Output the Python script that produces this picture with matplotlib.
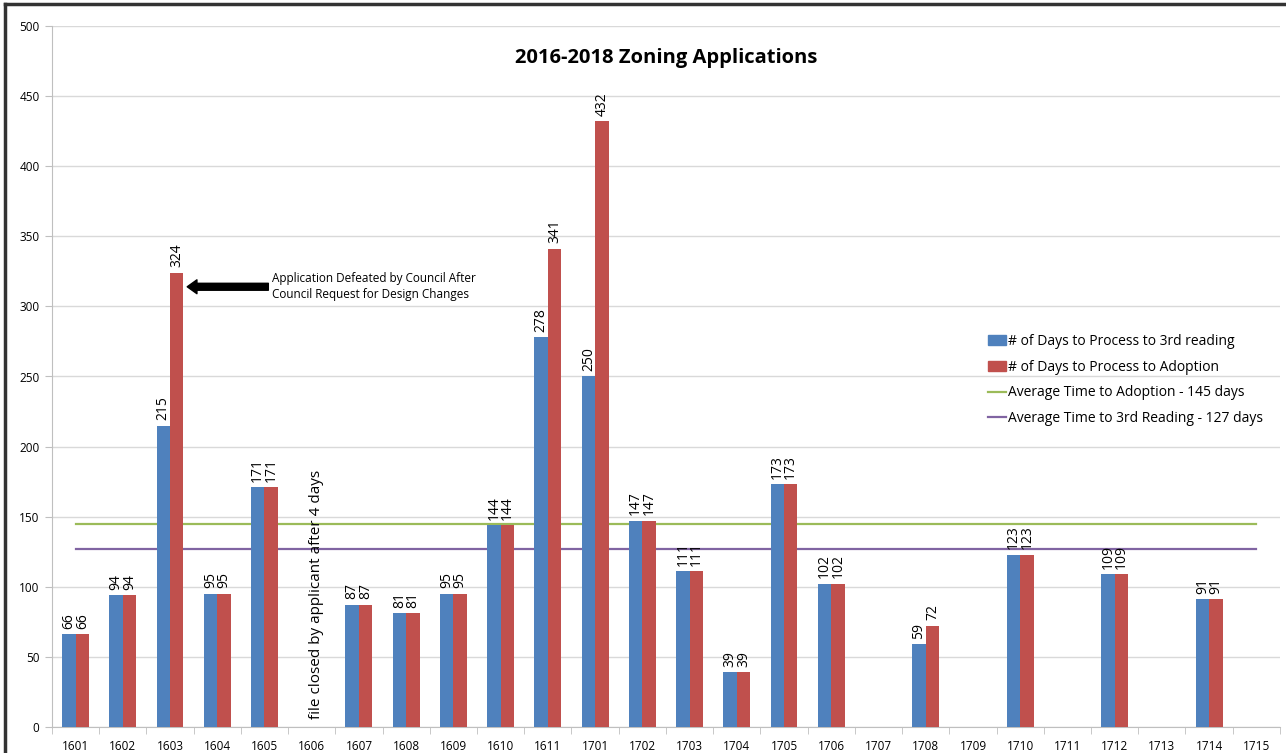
import matplotlib.pyplot as plt
import numpy as np
from matplotlib.lines import Line2D
from matplotlib.patches import Patch

# zoning application ids
apps = ['1601', '1602', '1603', '1604', '1605', '1606', '1607', '1608', '1609', '1610', '1611',
        '1701', '1702', '1703', '1704', '1705', '1706', '1707', '1708', '1709', '1710', '1711',
        '1712', '1713', '1714', '1715']
# days to 3rd reading / adoption (None = no bar)
third = [66, 94, 215, 95, 171, None, 87, 81, 95, 144, 278,
         250, 147, 111, 39, 173, 102, None, 59, None, 123, None, 109, None, 91, None]
adopt = [66, 94, 324, 95, 171, None, 87, 81, 95, 144, 341,
         432, 147, 111, 39, 173, 102, None, 72, None, 123, None, 109, None, 91, None]
avg_adopt = 145
avg_third = 127

blue = '#4F81BD'
red = '#C0504D'
green = '#9BBB59'
purple = '#8064A2'

plt.rcParams['font.family'] = ['Open Sans', 'DejaVu Sans']

fig = plt.figure(figsize=(12.86, 7.53), dpi=100)
ax = fig.add_axes([0.0404, 0.0345, 0.9549, 0.931])

x = np.arange(len(apps))
w = 0.285
for i in range(len(apps)):
    if third[i] is None:
        continue
    ax.bar(x[i] - w / 2, third[i], w, color=blue, zorder=3)
    ax.bar(x[i] + w / 2, adopt[i], w, color=red, zorder=3)
    ax.text(x[i] - w / 2, third[i] + 4, str(third[i]), rotation=90, ha='center', va='bottom',
            fontsize=10)
    ax.text(x[i] + w / 2, adopt[i] + 4, str(adopt[i]), rotation=90, ha='center', va='bottom',
            fontsize=10)

# average lines across all categories
ax.plot([x[0], x[-1]], [avg_adopt, avg_adopt], color=green, lw=1.6, zorder=2)
ax.plot([x[0], x[-1]], [avg_third, avg_third], color=purple, lw=1.6, zorder=2)

ax.set_xlim(-0.5, len(apps) - 0.5)
ax.set_ylim(0, 500)
ax.set_yticks(range(0, 501, 50))
ax.set_xticks(x)
ax.set_xticklabels(apps, fontsize=8.5)
ax.tick_params(axis='y', labelsize=8.5, length=5, color='#BFBFBF', pad=4)
ax.tick_params(axis='x', length=0, pad=9)
ax.set_xticks(np.arange(-0.5, len(apps), 1), minor=True)
ax.tick_params(axis='x', which='minor', length=5, color='#BFBFBF', direction='out')
ax.grid(axis='y', color='#D9D9D9', lw=1, zorder=0)
for s in ['top', 'right']:
    ax.spines[s].set_visible(False)
ax.spines['left'].set_color('#BFBFBF')
ax.spines['bottom'].set_color('#BFBFBF')

ax.set_title('2016-2018 Zoning Applications', fontsize=14.5, fontweight='bold', y=0.935)

# annotations
ax.annotate('', xy=(2 + w + 0.02, 314), xytext=(4.14, 314),
            arrowprops=dict(arrowstyle='simple,head_length=0.7,head_width=1.0,tail_width=0.5',
                        color='black'))
ax.text(4.16, 314, 'Application Defeated by Council After\nCouncil Request for Design Changes',
        fontsize=8.5, va='center', ha='left', linespacing=1.3)
ax.text(5.1, 6, 'file closed by applicant after 4 days', rotation=90, ha='center',
        va='bottom', fontsize=11)

handles = [Patch(color=blue), Patch(color=red),
           Line2D([], [], color=green, lw=1.6), Line2D([], [], color=purple, lw=1.6)]
labels = ['# of Days to Process to 3rd reading', '# of Days to Process to Adoption',
          'Average Time to Adoption - 145 days', 'Average Time to 3rd Reading - 127 days']
ax.legend(handles, labels, loc='upper left', bbox_to_anchor=(0.762, 0.561), frameon=False,
          fontsize=10, handlelength=1.3, handletextpad=0.15, labelspacing=0.78,
          borderpad=0, borderaxespad=0)

# outer frame lines (left and top)
fig.add_artist(Line2D([0.004, 0.004], [0, 0.995], color='#333333', lw=2.5))
fig.add_artist(Line2D([0.004, 1], [0.995, 0.995], color='#333333', lw=2.5))

fig.savefig('out.png', dpi=100)
